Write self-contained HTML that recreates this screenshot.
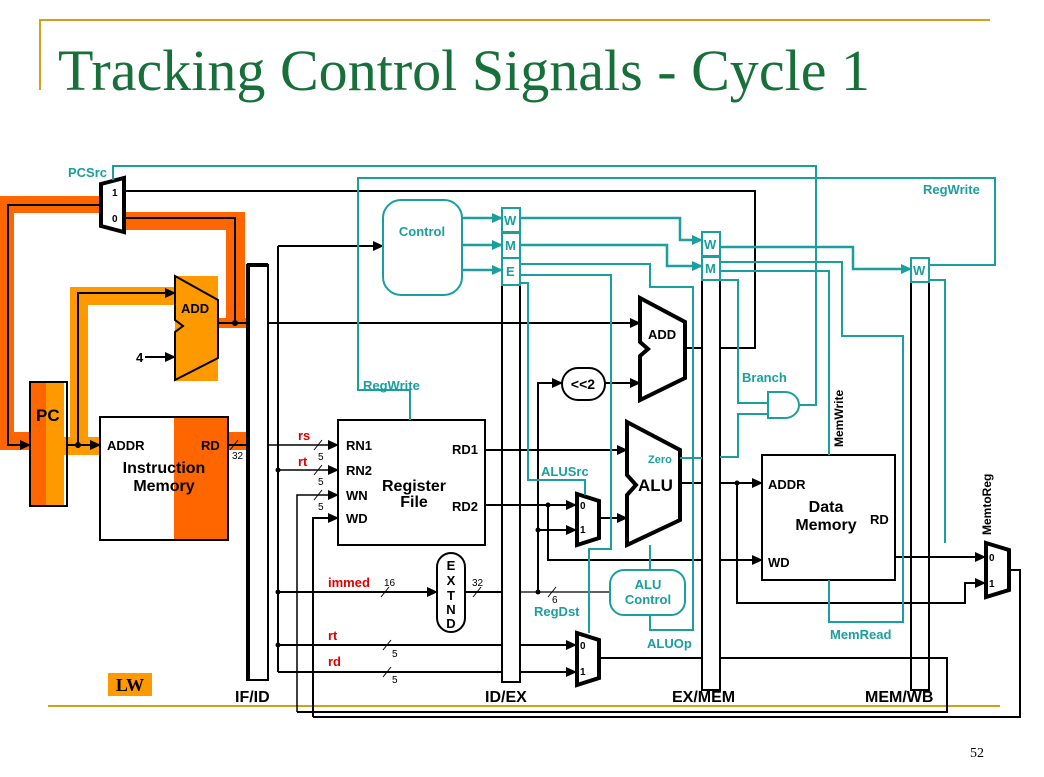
<!DOCTYPE html>
<html><head><meta charset="utf-8"><style>
html,body{margin:0;padding:0;background:#fff;}
svg{display:block;}
.b{stroke:#000;fill:none;stroke-width:2;}
.t{stroke:#1a9e9e;fill:none;stroke-width:2;}
.tt{fill:#1a9e9e;font-family:"Liberation Sans",sans-serif;font-weight:bold;font-size:13px;}
.bt{fill:#000;font-family:"Liberation Sans",sans-serif;font-weight:bold;font-size:13px;}
.big{font-size:16px;}
.rt{fill:#d00;font-family:"Liberation Sans",sans-serif;font-weight:bold;font-size:13px;}
.st{fill:#000;font-family:"Liberation Sans",sans-serif;font-size:10px;}
.sb{fill:#000;font-family:"Liberation Sans",sans-serif;font-size:10px;font-weight:bold;}
</style></head><body>
<svg width="1044" height="777" viewBox="0 0 1044 777" xmlns="http://www.w3.org/2000/svg">
<defs>
<marker id="ab" markerWidth="11" markerHeight="10" refX="10" refY="5" orient="auto" markerUnits="userSpaceOnUse"><path d="M0,0 L11,5 L0,10z" fill="#000"/></marker>
<marker id="at" markerWidth="11" markerHeight="10" refX="10" refY="5" orient="auto" markerUnits="userSpaceOnUse"><path d="M0,0 L11,5 L0,10z" fill="#1a9e9e"/></marker>
</defs>
<path d="M40,90 V20 H990" stroke="#d4a017" stroke-width="2" fill="none"/>
<line x1="48" y1="706" x2="1000" y2="706" stroke="#d4a017" stroke-width="2"/>
<text x="58" y="90" font-family="Liberation Serif,serif" font-size="58" fill="#17703a" textLength="812" lengthAdjust="spacingAndGlyphs">Tracking Control Signals - Cycle 1</text>
<text x="970" y="757" font-family="Liberation Serif,serif" font-size="14" fill="#000">52</text>

<g fill="#ff6600">
<rect x="0" y="196" width="102" height="17"/>
<rect x="0" y="196" width="14" height="254"/>
<rect x="0" y="432" width="32" height="18"/>
<rect x="118" y="212" width="127" height="18"/>
<rect x="226" y="212" width="19" height="116"/>
<rect x="216" y="318" width="30" height="10"/>
<rect x="228" y="432" width="19" height="18"/>
<rect x="174" y="417" width="54" height="123"/>
</g>
<g fill="#ff9900">
<rect x="70" y="287" width="110" height="18"/>
<rect x="70" y="287" width="18" height="167"/>
<rect x="64" y="437" width="36" height="18"/>
<rect x="175" y="276" width="43" height="105"/>
</g>
<rect x="30" y="382" width="16" height="124" fill="#ff6600"/>
<rect x="46" y="382" width="18" height="124" fill="#ff9900"/>
<rect x="30" y="382" width="37" height="124" class="b"/>
<text x="36" y="421" class="bt" style="font-size:17px">PC</text>
<rect x="100" y="417" width="128" height="123" class="b"/>
<text x="107" y="450" class="bt">ADDR</text>
<text x="201" y="450" class="bt">RD</text>
<text x="164" y="473" class="bt big" text-anchor="middle">Instruction</text>
<text x="164" y="491" class="bt big" text-anchor="middle">Memory</text>
<path d="M175,276 L218,300 L218,358 L175,380 L175,332 L183,326 L175,320 Z" class="b" stroke-width="4"/>
<text x="181" y="313" class="bt">ADD</text>
<path d="M101,184 L124,178 L124,232 L101,226 Z" fill="#fff" stroke="#000" stroke-width="4"/>
<text x="112" y="196" class="sb">1</text>
<text x="112" y="222" class="sb">0</text>
<text x="68" y="177" class="tt">PCSrc</text>

<rect x="247" y="265" width="21" height="415" fill="#fff" stroke="#000" stroke-width="2"/>
<line x1="248" y1="265" x2="248" y2="680" stroke="#000" stroke-width="4"/>
<line x1="247" y1="265" x2="268" y2="265" stroke="#000" stroke-width="4"/>
<rect x="502" y="285" width="18" height="397" class="b" fill="#fff"/>
<rect x="702" y="280" width="18" height="410" class="b" fill="#fff"/>
<rect x="911" y="282" width="18" height="408" class="b" fill="#fff"/>
<g class="t">
<rect x="502" y="208" width="18" height="24"/><rect x="502" y="233" width="18" height="25"/><rect x="502" y="258" width="18" height="27"/>
<rect x="702" y="232" width="18" height="24"/><rect x="702" y="257" width="18" height="23"/>
<rect x="911" y="258" width="18" height="24"/>
</g>
<text x="504" y="225" class="tt">W</text><text x="505" y="250" class="tt">M</text><text x="506" y="276" class="tt">E</text>
<text x="704" y="249" class="tt">W</text><text x="705" y="273" class="tt">M</text>
<text x="913" y="275" class="tt">W</text>
<text x="235" y="702" class="bt big">IF/ID</text>
<text x="485" y="702" class="bt big">ID/EX</text>
<text x="672" y="702" class="bt big">EX/MEM</text>
<text x="865" y="702" class="bt big">MEM/WB</text>
<rect x="108" y="673" width="44" height="23" fill="#ff9900"/>
<text x="130" y="691" font-family="Liberation Serif,serif" font-weight="bold" font-size="18" text-anchor="middle">LW</text>

<g class="b">
<path d="M100,205 H8 V445 H30" marker-end="url(#ab)"/>
<path d="M67,445 H100" marker-end="url(#ab)"/>
<path d="M78,445 V293 H175" marker-end="url(#ab)"/>
<path d="M145,357 H175" marker-end="url(#ab)"/>
<path d="M218,323 H247"/>
<path d="M235,323 V218 H125"/>
<path d="M228,445 H247"/>
<path d="M268,323 H640" marker-end="url(#ab)"/>
<path d="M125,191 H755 V348 H720"/>
<path d="M685,348 H702"/>
<path d="M268,445 H338" marker-end="url(#ab)" stroke-width="1.5"/>
<path d="M278,246 H383" marker-end="url(#ab)"/>
<path d="M278,246 V672"/>
<path d="M278,470 H338" marker-end="url(#ab)" stroke-width="1.5"/>
<path d="M278,592 H437" marker-end="url(#ab)"/>
<path d="M278,645 H502"/>
<path d="M278,672 H502"/>
<path d="M297,712 V495 H338" marker-end="url(#ab)" stroke-width="1.5"/>
<path d="M313,717 V518 H338" marker-end="url(#ab)"/>
<path d="M485,450 H627" marker-end="url(#ab)"/>
<path d="M485,505 H576" marker-end="url(#ab)"/>
<path d="M548,505 V560 H702"/>
<path d="M720,560 H762" marker-end="url(#ab)"/>
<path d="M465,592 H502"/>
<path d="M520,592 H610" stroke-width="1.2"/>
<path d="M538,592 V383 H562" marker-end="url(#ab)"/>
<path d="M538,530 H576" marker-end="url(#ab)"/>
<path d="M600,518 H627" marker-end="url(#ab)"/>
<path d="M605,383 H640" marker-end="url(#ab)"/>
<path d="M680,483 H702"/>
<path d="M720,483 H762" marker-end="url(#ab)"/>
<path d="M737,483 V603 H965 V583 H985" marker-end="url(#ab)"/>
<path d="M895,557 H985" marker-end="url(#ab)"/>
<path d="M520,645 H576" marker-end="url(#ab)"/>
<path d="M520,672 H576" marker-end="url(#ab)"/>
<path d="M600,658 H702"/>
<path d="M720,658 H947 V712 H297"/>
<path d="M1010,570 H1020 V717 H313"/>
</g>
<g fill="#000"><circle cx="78" cy="445" r="3"/><circle cx="235" cy="323" r="3"/><circle cx="278" cy="470" r="2.5"/><circle cx="278" cy="592" r="2.5"/><circle cx="278" cy="645" r="2.5"/><circle cx="548" cy="505" r="2.5"/><circle cx="538" cy="592" r="2.5"/><circle cx="538" cy="530" r="2.5"/><circle cx="737" cy="483" r="2.5"/></g>
<text x="136" y="362" class="bt">4</text>
<g stroke="#000" stroke-width="1"><line x1="230" y1="450" x2="238" y2="440"/><line x1="314" y1="450" x2="322" y2="440"/><line x1="314" y1="475" x2="322" y2="465"/><line x1="314" y1="500" x2="322" y2="490"/><line x1="381" y1="597" x2="389" y2="587"/><line x1="473" y1="597" x2="481" y2="587"/><line x1="548" y1="597" x2="556" y2="587"/><line x1="383" y1="650" x2="391" y2="640"/><line x1="383" y1="677" x2="391" y2="667"/></g>
<text x="232" y="459" class="st">32</text>
<text x="318" y="460" class="st">5</text><text x="318" y="485" class="st">5</text><text x="318" y="510" class="st">5</text>
<text x="384" y="586" class="st">16</text><text x="472" y="586" class="st">32</text><text x="552" y="603" class="st">6</text>
<text x="392" y="657" class="st">5</text><text x="392" y="683" class="st">5</text>
<text x="298" y="440" class="rt">rs</text><text x="298" y="466" class="rt">rt</text>
<text x="328" y="587" class="rt">immed</text><text x="328" y="640" class="rt">rt</text><text x="328" y="666" class="rt">rd</text>

<rect x="338" y="420" width="147" height="125" class="b"/>
<text x="346" y="450" class="bt">RN1</text><text x="346" y="475" class="bt">RN2</text>
<text x="346" y="500" class="bt">WN</text><text x="346" y="523" class="bt">WD</text>
<text x="452" y="454" class="bt">RD1</text><text x="452" y="511" class="bt">RD2</text>
<text x="414" y="491" class="bt big" text-anchor="middle">Register</text>
<text x="414" y="507" class="bt big" text-anchor="middle">File</text>
<rect x="437" y="553" width="28" height="79" rx="14" class="b"/>
<g class="bt" text-anchor="middle"><text x="451" y="570">E</text><text x="451" y="585">X</text><text x="451" y="600">T</text><text x="451" y="614">N</text><text x="451" y="628">D</text></g>
<rect x="562" y="368" width="43" height="32" rx="16" class="b"/>
<text x="583" y="389" class="bt" text-anchor="middle" style="font-size:14px">&lt;&lt;2</text>
<path d="M640,298 L685,322 L685,378 L640,400 L640,356 L648,349 L640,342 Z" fill="#fff" stroke="#000" stroke-width="4"/>
<text x="648" y="339" class="bt">ADD</text>
<path d="M627,422 L680,450 L680,520 L627,545 L627,495 L636,485 L627,475 Z" fill="#fff" stroke="#000" stroke-width="4"/>
<text x="638" y="491" class="bt" style="font-size:17px">ALU</text>
<text x="648" y="463" class="tt" style="font-size:11px">Zero</text>
<path d="M577,494 L599,501 L599,538 L577,545 Z" fill="#fff" stroke="#000" stroke-width="4"/>
<text x="580" y="509" class="sb">0</text><text x="580" y="533" class="sb">1</text>
<path d="M577,633 L599,640 L599,678 L577,685 Z" fill="#fff" stroke="#000" stroke-width="4"/>
<text x="580" y="649" class="sb">0</text><text x="580" y="675" class="sb">1</text>
<rect x="762" y="455" width="133" height="125" class="b"/>
<text x="768" y="489" class="bt">ADDR</text><text x="768" y="567" class="bt">WD</text><text x="870" y="524" class="bt">RD</text>
<text x="826" y="512" class="bt big" text-anchor="middle">Data</text>
<text x="826" y="530" class="bt big" text-anchor="middle">Memory</text>
<path d="M986,543 L1009,550 L1009,590 L986,597 Z" fill="#fff" stroke="#000" stroke-width="4"/>
<text x="989" y="561" class="sb">0</text><text x="989" y="587" class="sb">1</text>

<rect x="383" y="200" width="79" height="95" rx="18" class="t" stroke-width="2.5"/>
<text x="422" y="236" class="tt" text-anchor="middle">Control</text>
<rect x="610" y="570" width="75" height="45" rx="14" class="t" stroke-width="2.5"/>
<text x="648" y="589" class="tt" text-anchor="middle">ALU</text>
<text x="648" y="604" class="tt" text-anchor="middle">Control</text>
<path d="M768,392 H785 A14,13 0 0 1 785,418 H768 Z" class="t"/>

<g class="t">
<path d="M462,218 H502" marker-end="url(#at)" stroke-width="2.5"/>
<path d="M462,245 H502" marker-end="url(#at)" stroke-width="2.5"/>
<path d="M462,270 H502" marker-end="url(#at)" stroke-width="2.5"/>
<path d="M520,218 H680 V240 H702" marker-end="url(#at)" stroke-width="2.5"/>
<path d="M520,245 H667 V266 H702" marker-end="url(#at)" stroke-width="2.5"/>
<path d="M520,264 H650 V287 H693 V630 H650 V615"/>
<path d="M520,275 H611 V549 H589 V633"/>
<path d="M520,283 H528 V480 H585 V495"/>
<path d="M650,545 V570"/>
<path d="M680,458 H702"/>
<path d="M720,247 H853 V269 H911" marker-end="url(#at)" stroke-width="2.5"/>
<path d="M720,262 H842 V336 H903 V622 H829 V580"/>
<path d="M720,271 H829 V455"/>
<path d="M720,280 H738 V403 H768"/>
<path d="M720,457 H738 V414 H768"/>
<path d="M800,405 H816 V166 H113 V180"/>
<path d="M929,265 H995 V178 H358 V390 H410 V420"/>
<path d="M929,280 H945 V543"/>
</g>
<text x="363" y="390" class="tt">RegWrite</text>
<text x="923" y="194" class="tt">RegWrite</text>
<text x="541" y="476" class="tt">ALUSrc</text>
<text x="534" y="616" class="tt">RegDst</text>
<text x="647" y="648" class="tt">ALUOp</text>
<text x="742" y="382" class="tt">Branch</text>
<text x="830" y="639" class="tt">MemRead</text>
<text class="bt" style="font-size:12px" transform="translate(843,447) rotate(-90)">MemWrite</text>
<text class="bt" style="font-size:12px" transform="translate(991,535) rotate(-90)">MemtoReg</text>
</svg>
</body></html>
